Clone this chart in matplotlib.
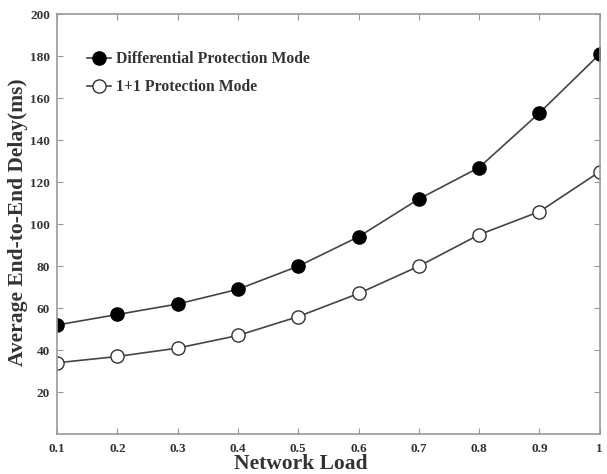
import matplotlib
matplotlib.use("Agg")
import matplotlib.pyplot as plt

# Datos
load = [0.1, 0.2, 0.3, 0.4, 0.5, 0.6, 0.7, 0.8, 0.9, 1.0]
diff_delay = [52, 57, 62, 69, 80, 94, 112, 127, 153, 181]
one_one_delay = [34, 37, 41, 47, 56, 67, 80, 95, 106, 125]
xtick_labels = ["0.1", "0.2", "0.3", "0.4", "0.5", "0.6", "0.7", "0.8", "0.9", "1"]
yticks = [20, 40, 60, 80, 100, 120, 140, 160, 180, 200]

plt.rcParams["font.family"] = ["Liberation Serif", "DejaVu Serif"]
plt.rcParams["font.weight"] = "bold"

fig = plt.figure(figsize=(6.07, 4.74), dpi=100)
ax = fig.add_axes([0.094, 0.084, 0.894, 0.886])

ax.plot(load, diff_delay, color="#444444", lw=1.2, marker="o", ms=9.5,
        mfc="black", mec="black", label="Differential Protection Mode")
ax.plot(load, one_one_delay, color="#444444", lw=1.2, marker="o", ms=9.5,
        mfc="white", mec="#333333", mew=1.0, label="1+1 Protection Mode")

ax.set_xlim(0.1, 1.0)
ax.set_ylim(0, 200)
ax.set_xticks(load)
ax.set_xticklabels(xtick_labels)
ax.set_yticks(yticks)

for s in ax.spines.values():
    s.set_color("#999999")
    s.set_linewidth(1.2)
ax.tick_params(direction="in", top=True, right=True, length=4, color="#999999",
               labelsize=9.5, labelcolor="#333333")
ax.tick_params(axis="x", pad=6)
ax.tick_params(axis="y", pad=5)
for lbl in ax.get_xticklabels() + ax.get_yticklabels():
    lbl.set_fontweight("bold")

ax.set_xlabel("Network Load", fontsize=15.5, fontweight="bold", color="#333333")
ax.xaxis.set_label_coords(0.449, -0.047)
ax.xaxis.label.set_verticalalignment("top")
ax.set_ylabel("Average End-to-End Delay(ms)", fontsize=15.5, fontweight="bold", color="#333333")
ax.yaxis.set_label_coords(-0.053, 0.505)

leg = ax.legend(loc="upper left", bbox_to_anchor=(0.03, 0.945), frameon=False,
                prop={"size": 11.3, "weight": "bold"}, handlelength=1.5,
                handletextpad=0.3, labelspacing=0.75, labelcolor="#333333")

plt.savefig("out.png", dpi=100)
